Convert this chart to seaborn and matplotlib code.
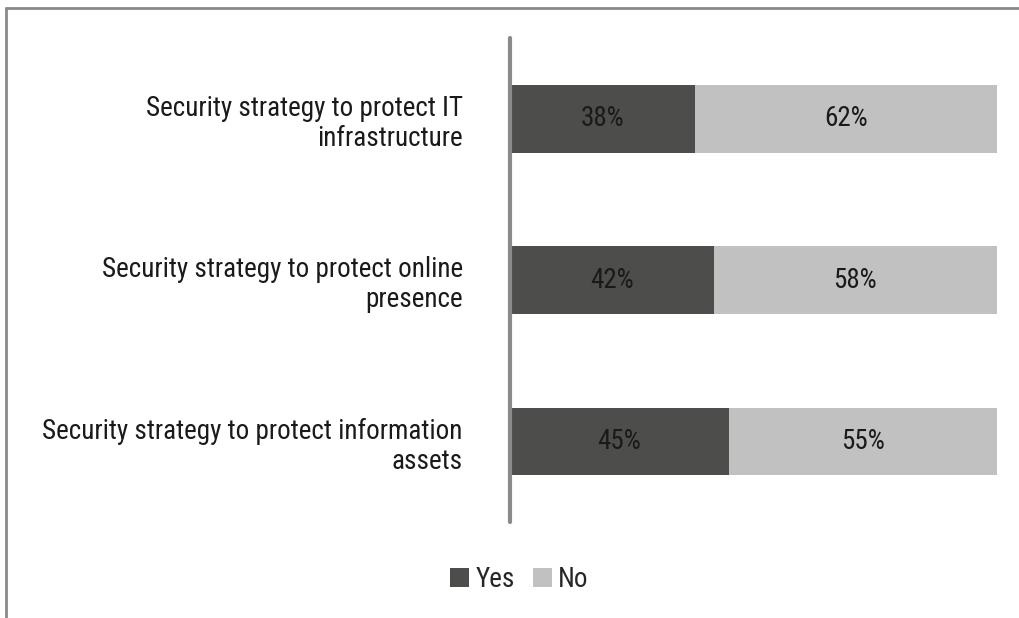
import matplotlib
matplotlib.use("Agg")
import matplotlib.pyplot as plt
import seaborn as sns
import pandas as pd
from matplotlib.lines import Line2D
from matplotlib.patches import Patch

categories = ["Security strategy to protect IT\ninfrastructure",
              "Security strategy to protect online\npresence",
              "Security strategy to protect information\nassets"]
yes_vals = [38, 42, 45]
no_vals = [62, 58, 55]
series = ["Yes", "No"]

dark = "#4d4d4b"
light = "#c0c1c0"

sns.set_theme(style="white")
plt.rcParams['font.family'] = ['Roboto Condensed', 'DejaVu Sans']

FS = 19.5
WEIGHT = 400

fig = plt.figure(figsize=(10.2, 6.18), dpi=100)
ax = fig.add_axes([0.5, 0.155, 0.477, 0.7835])

df = pd.DataFrame({"cat": categories, "yes": yes_vals, "no": no_vals})
df["total"] = df["yes"] + df["no"]

sns.barplot(data=df, y="cat", x="total", color=light, width=0.42, ax=ax,
            saturation=1, orient="h", linewidth=0)
sns.barplot(data=df, y="cat", x="yes", color=dark, width=0.42, ax=ax,
            saturation=1, orient="h", linewidth=0)

for i, (y, n) in enumerate(zip(yes_vals, no_vals)):
    ax.text(y / 2, i, f"{y}%", ha="center", va="center", fontsize=FS,
            color="#1a1a1a", fontweight=WEIGHT)
    ax.text(y + n / 2, i, f"{n}%", ha="center", va="center", fontsize=FS,
            color="#1a1a1a", fontweight=WEIGHT)

ax.set_xlim(0, 100)
ax.set_ylim(2.5, -0.5)
ax.set_xlabel("")
ax.set_ylabel("")
ax.set_xticks([])
ax.tick_params(axis="y", length=0, pad=34, labelsize=FS, labelcolor="#1a1a1a")
for lab in ax.get_yticklabels():
    lab.set_fontweight(WEIGHT)
    lab.set_linespacing(1.15)
for s in ["top", "right", "bottom"]:
    ax.spines[s].set_visible(False)
ax.spines["left"].set_color("#8a8a8a")
ax.spines["left"].set_linewidth(3)
ax.spines["left"].set_capstyle("round")

handles = [Patch(facecolor=dark, edgecolor="none"), Patch(facecolor=light, edgecolor="none")]
fig.legend(handles, series, loc="center", bbox_to_anchor=(0.509, 0.062), ncol=2,
           frameon=False, prop={"size": FS, "weight": WEIGHT},
           handlelength=0.72, handleheight=0.72,
           handletextpad=0.22, columnspacing=0.67)

# outer frame (top and left edges)
fig.add_artist(Line2D([0.006, 1.0], [0.987, 0.987], transform=fig.transFigure,
                      color="#8a8a8a", linewidth=2))
fig.add_artist(Line2D([0.006, 0.006], [0.0, 0.987], transform=fig.transFigure,
                      color="#8a8a8a", linewidth=2))

fig.savefig("out.png", dpi=100)
